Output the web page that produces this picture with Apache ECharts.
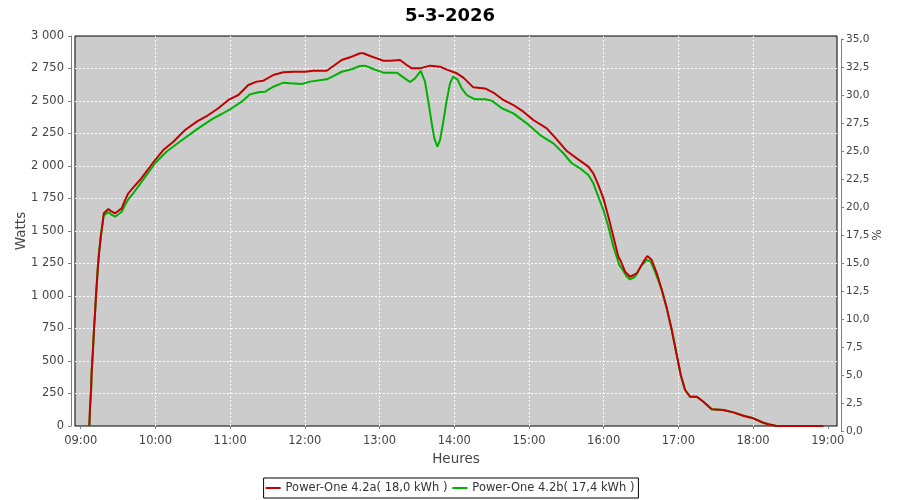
<!DOCTYPE html>
<html><head><meta charset="utf-8">
<script src="https://cdn.jsdelivr.net/npm/echarts@6/dist/echarts.min.js"></script>
<style>html,body{margin:0;padding:0;background:#fff}#c{width:900px;height:500px}</style>
</head><body><div id="c"></div>
<script>
const chartTitle = '5-3-2026';
const seriesNames = ['Power-One 4.2a( 18,0 kWh )', 'Power-One 4.2b( 17,4 kWh )'];
const xTickLabels = ['09:00','10:00','11:00','12:00','13:00','14:00','15:00','16:00','17:00','18:00','19:00'];

// times in minutes after 09:00
const minutesA = [6.9,7.5,8.3,8.8,9.9,10.7,11.5,12.3,13.7,14.7,16.1,17.7,18.5,22.2,24.0,27.6,32.9,35.6,38.2,42.8,47.6,59.7,66.3,74.4,83.8,93.2,102.5,110.5,118.6,126.6,134.6,141.4,146.7,154.7,162.7,170.8,180.2,186.8,197.6,202.9,209.6,216.3,224.3,227.0,232.4,237.8,243.1,248.4,256.5,261.8,265.9,272.5,280.6,288.6,294.0,302.0,307.3,315.3,324.7,331.4,339.4,347.5,355.5,363.5,374.3,382.3,390.4,398.4,407.7,411.7,415.7,419.8,423.8,427.8,431.8,433.3,437.2,441.2,446.6,451.9,455.1,458.6,462.7,466.7,470.7,474.7,478.7,481.9,485.4,489.4,494.8,500.1,506.8,516.1,524.2,532.2,540.2,548.2,552.3,559.0,596.5];
const wattsA = [0,148,277,418,598,752,867,1008,1213,1328,1456,1571,1636,1669,1655,1636,1674,1738,1790,1841,1892,2046,2123,2187,2277,2341,2392,2444,2508,2546,2623,2649,2656,2700,2721,2725,2725,2733,2733,2769,2815,2836,2867,2867,2846,2828,2810,2810,2815,2777,2751,2751,2772,2764,2741,2713,2680,2605,2597,2565,2508,2469,2418,2354,2290,2205,2115,2059,1995,1944,1854,1751,1610,1456,1302,1277,1187,1148,1174,1264,1308,1277,1174,1046,905,738,546,392,277,225,225,187,128,123,105,79,59,25,13,0,0];

const minutesB = [6.9,7.5,8.3,8.8,9.9,10.7,11.5,12.3,13.7,14.7,16.1,17.7,18.5,22.2,24.0,27.6,32.9,35.6,38.2,42.8,47.6,59.7,68.8,79.5,93.2,105.2,113.2,121.3,129.3,136.0,142.7,148.1,154.7,162.7,168.1,177.5,184.2,197.6,202.9,209.6,217.6,224.3,228.3,235.0,243.1,248.4,253.8,259.1,264.5,268.5,273.1,276.5,279.2,281.9,284.0,286.4,288.6,291.2,294.0,296.6,299.0,302.5,306.0,310.0,316.7,324.7,330.1,338.2,347.5,358.2,368.9,379.6,387.6,394.4,401.0,407.7,411.7,415.7,419.8,423.8,427.8,432.6,434.5,438.6,441.2,445.2,450.6,454.6,457.8,461.2,466.7,470.7,474.7,478.7,481.9,485.4,489.4,494.8,500.1,506.8,516.1,524.2,532.2,540.2,548.2,552.3,558.5];
const wattsB = [0,148,277,418,598,752,867,1008,1213,1328,1456,1571,1620,1645,1630,1610,1648,1700,1744,1798,1860,2021,2110,2187,2282,2359,2400,2444,2495,2551,2567,2572,2610,2641,2636,2631,2649,2667,2692,2725,2744,2769,2772,2746,2718,2718,2718,2682,2646,2674,2731,2649,2495,2328,2213,2149,2200,2341,2508,2636,2687,2667,2597,2546,2513,2513,2503,2444,2405,2328,2238,2174,2098,2021,1982,1931,1867,1764,1661,1533,1379,1238,1213,1148,1128,1148,1238,1277,1264,1187,1046,905,738,546,392,277,225,225,187,128,123,105,79,59,25,13,0];

const START = 540; // 09:00
const toPairs = (ms, ws) => ms.map((m, i) => [START + m, ws[i]]);
const tickVals = xTickLabels.map(s => { const p = s.split(':'); return +p[0] * 60 + +p[1]; });
const pad = n => String(n).padStart(2, '0');
const fmtTime = v => pad(Math.floor(Math.round(v) / 60)) + ':' + pad(Math.round(v) % 60);
const fmtW = v => v >= 1000 ? Math.floor(v / 1000) + ' ' + String(v % 1000).padStart(3, '0') : String(v);
const FONT = 'DejaVu Sans';
const X_MIN = 535.4, X_MAX = 1147.4;

const chart = echarts.init(document.getElementById('c'), null, {renderer: 'canvas'});
chart.setOption({
  animation: false,
  backgroundColor: '#ffffff',
  title: {text: chartTitle, left: 'center', top: 2, textStyle: {fontFamily: FONT, fontSize: 18, fontWeight: 'bold', color: '#000'}},
  grid: [
    {left: 75, top: 36, width: 762, height: 390, show: true, backgroundColor: '#cccccc', borderColor: '#000', borderWidth: 1},
    {left: 75, top: 39, width: 762, height: 392, show: false}
  ],
  legend: {
    bottom: 2, left: 'center', borderColor: '#000', borderWidth: 1, padding: [4, 4, 4, 2], itemGap: 5,
    itemWidth: 15, itemHeight: 2, icon: 'rect',
    textStyle: {fontFamily: FONT, fontSize: 11.5, color: '#333'},
    data: seriesNames
  },
  xAxis: [{
    type: 'value', gridIndex: 0, min: X_MIN, max: X_MAX, minInterval: 60, maxInterval: 60, offset: 4,
    name: 'Heures', nameLocation: 'middle', nameGap: 22, nameMoveOverlap: false,
    nameTextStyle: {fontFamily: FONT, fontSize: 13.5, color: '#444'},
    axisLine: {lineStyle: {color: '#808080', width: 1}},
    axisTick: {length: 3, customValues: tickVals, lineStyle: {color: '#808080'}},
    axisLabel: {customValues: tickVals, formatter: fmtTime, margin: 5, fontFamily: FONT, fontSize: 11.5, color: '#444'},
    splitLine: {show: true, showMinLine: false, showMaxLine: false, lineStyle: {color: '#ffffff', width: 1, type: [2, 2]}}
  }, {
    type: 'value', gridIndex: 1, min: X_MIN, max: X_MAX, show: false
  }],
  yAxis: [{
    type: 'value', gridIndex: 0, min: 0, max: 3000, interval: 250, offset: 4, position: 'left',
    name: 'Watts', nameLocation: 'middle', nameGap: 43, nameRotate: 90, nameMoveOverlap: false,
    nameTextStyle: {fontFamily: FONT, fontSize: 13.5, color: '#444'},
    axisLine: {show: true, lineStyle: {color: '#808080', width: 1}},
    axisTick: {show: true, length: 3, lineStyle: {color: '#808080'}},
    axisLabel: {formatter: fmtW, margin: 7, fontFamily: FONT, fontSize: 11.5, color: '#444'},
    splitLine: {show: true, showMinLine: false, showMaxLine: false, lineStyle: {color: '#ffffff', width: 1, type: [2, 2]}}
  }, {
    type: 'value', gridIndex: 1, min: 0, max: 35, interval: 2.5, offset: 4, position: 'right',
    name: '%', nameLocation: 'middle', nameGap: 31, nameRotate: 90, nameMoveOverlap: false,
    nameTextStyle: {fontFamily: FONT, fontSize: 12, color: '#444'},
    axisLine: {show: true, lineStyle: {color: '#808080', width: 1}},
    axisTick: {show: true, length: 3, lineStyle: {color: '#808080'}},
    axisLabel: {formatter: v => v.toFixed(1).replace('.', ','), margin: 5, fontFamily: FONT, fontSize: 10.5, color: '#444'},
    splitLine: {show: false}
  }],
  series: [{
    name: seriesNames[0], type: 'line', xAxisIndex: 0, yAxisIndex: 0, data: toPairs(minutesA, wattsA), showSymbol: false, z: 3,
    color: '#c00000', lineStyle: {color: '#c00000', width: 2}
  }, {
    name: seriesNames[1], type: 'line', xAxisIndex: 0, yAxisIndex: 0, data: toPairs(minutesB, wattsB), showSymbol: false, z: 2,
    color: '#00b000', lineStyle: {color: '#00b000', width: 2}
  }]
});
</script>
</body></html>
